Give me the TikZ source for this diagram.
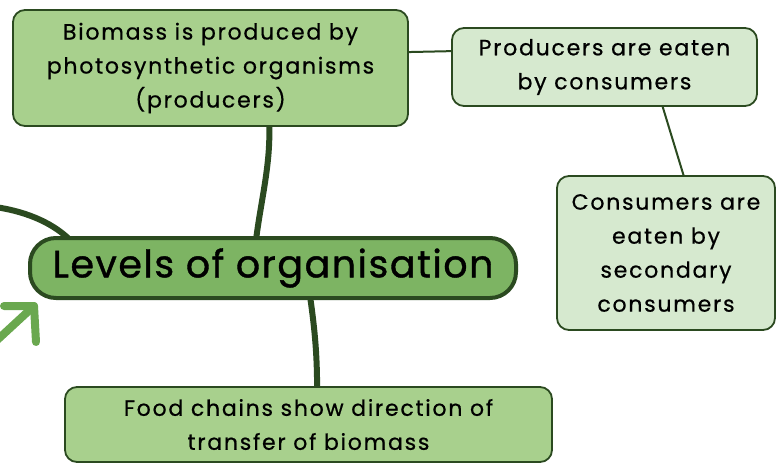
\documentclass[tikz,border=0pt]{standalone}
\usepackage{fontspec}
\usetikzlibrary{calc,backgrounds}
\setmainfont{Poppins}[LetterSpace=8,FakeBold=0.6]
\newfontfamily\bigfont{Poppins}[LetterSpace=4,FakeBold=1]
\definecolor{edge}{HTML}{2B4A20}
\definecolor{midgreen}{HTML}{A8D08D}
\definecolor{lightgreen}{HTML}{D6E9CF}
\definecolor{maingreen}{HTML}{7DB463}
\definecolor{arrowgreen}{HTML}{6AA84F}
\begin{document}
\begin{tikzpicture}[x=1pt,y=-1pt,
  box/.style={draw=edge, line width=1.8pt, rounded corners=12pt, inner sep=0pt,
    align=center, text=black, font=\fontsize{22}{34}\selectfont},
  midbox/.style={box, fill=midgreen},
  lightbox/.style={box, fill=lightgreen},
  mainbox/.style={draw=edge, line width=4pt, rounded corners=26pt, fill=maingreen,
    inner sep=0pt, text=black, font=\bigfont\fontsize{38}{38}\selectfont},
  thickline/.style={draw=edge, line width=6pt},
  thinline/.style={draw=edge, line width=2pt},
  greenarrow/.style={draw=arrowgreen, line width=8pt, line cap=round, line join=round}]
\useasboundingbox (0,0) rectangle (781,468);

\coordinate (lc) at (-5,207);
\coordinate (ls) at (-5,342);
\coordinate (lt) at (34,306);
\coordinate (la) at (4,306);
\coordinate (lb) at (36,342);

\node[midbox, minimum width=395pt, minimum height=116pt] (bio) at (210.5,68)
  {Biomass is produced by\\photosynthetic organisms\\(producers)};
\node[lightbox, minimum width=305pt, minimum height=78pt] (prod) at (604.5,67)
  {Producers are eaten\\by consumers};
\node[lightbox, minimum width=218pt, minimum height=154pt] (cons) at (666,253)
  {Consumers are\\eaten by\\secondary\\consumers};
\node[mainbox, minimum width=486pt, minimum height=60pt] (main) at (273,268)
  {Levels of organisation};
\node[midbox, minimum width=487pt, minimum height=75pt] (food) at (308.5,424.5)
  {Food chains show direction of\\transfer of biomass};

\begin{scope}[on background layer]
\draw[thickline] ($(bio.south west)+(257,-4)$) .. controls +(2,40) and +(5,-40) .. ($(main.north west)+(228,4)$);
\draw[thickline] ($(main.south west)+(282,-4)$) .. controls +(5,35) and +(0,-35) .. ($(food.north west)+(253,4)$);
\draw[thickline] (lc) .. controls (30,212) and (55,225) .. ($(main.north west)+(42,4)$);
\draw[thinline] ($(bio.north east)+(-2,43)$) -- ($(prod.north west)+(2,24)$);
\draw[thinline] ($(prod.south west)+(211,-2)$) -- ($(cons.north west)+(128,2)$);
\end{scope}
\draw[greenarrow] (ls) -- (lt);
\draw[greenarrow] (la) -- (lt) -- (lb);
\end{tikzpicture}
\end{document}
